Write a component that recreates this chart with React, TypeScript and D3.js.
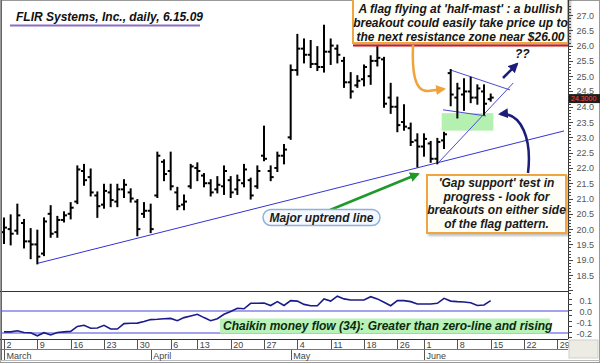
import React from 'react';
import * as d3 from 'd3';

// trading days shown (Mar 2 .. Jun 15, 2009)
const marchDays = [2, 3, 4, 5, 6, 9, 10, 11, 12, 13, 16, 17, 18, 19, 20, 23, 24, 25, 26, 27, 30, 31];
const aprilDays = [1, 2, 3, 6, 7, 8, 9, 13, 14, 15, 16, 17, 20, 21, 22, 23, 24, 27, 28, 29, 30];
const mayDays = [1, 4, 5, 6, 7, 8, 11, 12, 13, 14, 15, 18, 19, 20, 21, 22, 26, 27, 28, 29];
const juneDays = [1, 2, 3, 4, 5, 8, 9, 10, 11, 12, 15];

const high = [20.35, 20.45, 20.8, 20.3, 20.0, 19.95, 20.35, 20.75, 20.4, 20.55, 20.85, 22.05, 22.1, 21.95, 21.2, 21.45, 21.45, 21.45, 21.6, 21.3, 20.95, 20.85, 20.8, 22.5, 22.25, 22.5, 21.35, 21.1, 22.1, 22.15, 21.8, 21.6, 21.7, 22.05, 21.7, 21.75, 22.1, 21.65, 22.05, 23.35, 22.05, 22.5, 22.75, 25.35, 26.35, 26.2, 26.15, 25.95, 26.65, 26.2, 26.0, 25.6, 25.1, 25.0, 25.35, 25.65, 25.95, 25.6, 24.75, 24.3, 24.05, 23.45, 23.1, 23.1, 22.85, 22.95, 23.15, 25.2, 24.75, 24.9, 24.95, 24.7, 24.7, 24.4];
const low = [19.55, 19.5, 19.85, 19.4, 19.05, 18.88, 19.15, 19.75, 19.75, 20.25, 20.35, 20.85, 21.45, 21.1, 20.4, 20.7, 20.75, 20.75, 21.05, 20.9, 19.8, 20.4, 19.9, 21.05, 21.6, 21.3, 20.65, 20.65, 21.35, 21.6, 21.4, 21.1, 21.2, 21.15, 21.05, 21.15, 21.4, 21.0, 21.35, 22.25, 21.6, 21.9, 22.15, 22.95, 25.05, 25.45, 25.3, 25.2, 25.15, 25.4, 25.45, 24.65, 24.3, 24.65, 24.7, 24.75, 25.35, 24.0, 23.8, 23.2, 23.25, 22.75, 22.05, 22.4, 22.2, 22.15, 22.65, 24.05, 23.65, 23.9, 24.15, 24.1, 23.75, 24.2];
const open = [19.9, 20.0, 19.95, 20.2, 19.6, 19.5, 19.2, 20.5, 19.9, 20.3, 20.5, 20.9, 21.9, 21.7, 21.1, 20.8, 21.2, 20.9, 21.3, 21.2, 20.9, 20.5, 20.6, 21.1, 22.2, 21.9, 21.2, 20.8, 21.4, 22.0, 21.75, 21.5, 21.3, 21.4, 21.6, 21.3, 21.5, 21.6, 21.4, 22.4, 21.9, 22.0, 22.4, 23.0, 25.2, 25.9, 25.7, 25.4, 25.3, 25.8, 25.9, 25.5, 24.8, 24.7, 24.9, 25.0, 25.5, 25.55, 24.3, 24.0, 23.5, 23.3, 22.9, 22.7, 22.8, 22.3, 22.9, 25.1, 24.3, 24.4, 24.5, 24.3, 24.5, 24.25];
const close = [20.05, 19.85, 20.45, 19.6, 19.5, 19.1, 20.25, 19.85, 20.3, 20.45, 20.7, 21.95, 21.6, 21.2, 20.75, 21.25, 20.95, 21.3, 21.45, 21.0, 20.0, 20.6, 20.0, 22.4, 21.8, 21.4, 20.75, 20.9, 22.05, 21.9, 21.5, 21.2, 21.45, 21.9, 21.2, 21.6, 21.95, 21.1, 21.9, 22.3, 21.7, 22.4, 22.6, 25.2, 25.9, 25.7, 25.4, 25.3, 25.8, 26.0, 25.7, 24.8, 24.5, 24.85, 25.3, 25.5, 25.6, 24.1, 24.0, 23.4, 23.35, 22.85, 22.7, 22.95, 22.3, 22.85, 23.1, 24.4, 24.6, 24.5, 24.3, 24.6, 24.1, 24.3];
const cmf = [-0.19, -0.19, -0.18, -0.195, -0.197, -0.225, -0.197, -0.218, -0.195, -0.19, -0.185, -0.14, -0.13, -0.157, -0.155, -0.13, -0.164, -0.164, -0.115, -0.112, -0.11, -0.095, -0.078, -0.075, -0.07, -0.067, -0.088, -0.06, -0.045, -0.03, -0.06, -0.088, -0.07, -0.03, -0.005, 0.025, 0.02, 0.07, 0.07, 0.072, 0.05, 0.085, 0.05, 0.094, 0.09, 0.06, 0.048, 0.048, 0.11, 0.09, 0.135, 0.11, 0.1, 0.1, 0.1, 0.13, 0.11, 0.08, 0.048, 0.095, 0.094, 0.085, 0.064, 0.064, 0.064, 0.07, 0.115, 0.09, 0.085, 0.082, 0.075, 0.05, 0.055, 0.094];

const monthNames = ['March', 'April', 'May', 'June'];
const weekLabels = ['2', '9', '16', '23', '30', '6', '13', '20', '27', '4', '11', '18', '26', '1', '8', '15', '22', '29'];
const weekIndex = [0, 5, 10, 15, 20, 25, 29, 34, 39, 44, 49, 54, 59, 63, 68, 73, 78, 83];
const priceTicks = ['18.5', '19.0', '19.5', '20.0', '20.5', '21.0', '21.5', '22.0', '22.5', '23.0', '23.5', '24.0', '24.5', '25.0', '25.5', '26.0', '26.5', '27.0'];
const cmfTicks = ['0.1', '0.0', '-0.1', '-0.2'];
const lastPrice = '24.3000';

// chart annotations in (day index, price)
const uptrend = [[5, 18.88], [84, 23.21]];
const flagTop = [[67, 25.2], [75.9, 24.55]];
const flagBottom = [[65.85, 23.9], [72.3, 23.7]];
const flagRise = [[65.1, 22.16], [76.4, 24.78]];
const gapZone = [65.65, 73.4, 23.22, 23.79];
const resistance = 26.0;

const titleText = 'FLIR Systems, Inc., daily, 6.15.09';
const topNote = ["A flag flying at 'half-mast' : a bullish", 'breakout could easily take price up to', 'the next resistance zone near $26.00'];
const lowNote = ["'Gap support' test in", 'progress - look for', 'breakouts on either side', 'of the flag pattern.'];
const trendNote = 'Major uptrend line';
const cmfNote = 'Chaikin money flow (34): Greater than zero-line and rising';

const W = 600;
const H = 363;
const axisX = 568;
const font = "'Liberation Sans', Arial, sans-serif";

export default function App() {
  const monthStarts = [0, marchDays.length, marchDays.length + aprilDays.length, marchDays.length + aprilDays.length + mayDays.length];
  const n = high.length;

  const x = d3.scaleLinear().domain([0, n - 1]).range([4, 4 + (n - 1) * 6.667]);
  const y = d3.scaleLinear().domain([18.5, 27]).range([275, 15]);
  const yc = d3.scaleLinear().domain([-0.2, 0.1]).range([333, 300]);

  const cmfLine = d3.line<number>().x((_, i) => x(i)).y(d => yc(d)).curve(d3.curveLinear);
  const seg = (p: number[][]) => d3.line<number[]>().x(d => x(d[0])).y(d => y(d[1]))(p) as string;

  const minor = d3.range(179, 274).map(v => v / 10);
  const cmfMinor = d3.range(-24, 15, 5).map(v => v / 100);
  const tagY = y(close[n - 1]);

  return (
    <svg width={W} height={H} style={{ position: 'absolute', left: 0, top: 0, background: '#fff' }} fontFamily={font}>
      <defs>
        <marker id="hGreen" viewBox="0 0 10 10" refX="8" refY="5" markerWidth="4" markerHeight="4" orient="auto">
          <path d="M0,0 L10,5 L0,10 z" fill="#1f9a2a" />
        </marker>
        <marker id="hOrange" viewBox="0 0 10 10" refX="8" refY="5" markerWidth="4" markerHeight="4" orient="auto">
          <path d="M0,0 L10,5 L0,10 z" fill="#f2a23a" />
        </marker>
        <marker id="hNavy" viewBox="0 0 10 10" refX="8" refY="5" markerWidth="4" markerHeight="4" orient="auto">
          <path d="M0,0 L10,5 L0,10 z" fill="#1c1c7a" />
        </marker>
        <filter id="shadow" x="-10%" y="-10%" width="125%" height="130%">
          <feDropShadow dx="2" dy="2" stdDeviation="1.2" floodColor="#000" floodOpacity="0.25" />
        </filter>
      </defs>

      <rect x={0.5} y={0.5} width={W - 1} height={H - 1} fill="#fff" stroke="#9a9a9a" />

      {/* gap zone */}
      <rect x={x(gapZone[0])} y={y(gapZone[3])} width={x(gapZone[1]) - x(gapZone[0])} height={y(gapZone[2]) - y(gapZone[3])} fill="#b4f0b0" />

      {/* trend lines */}
      <path d={seg(uptrend)} stroke="#3434d0" strokeWidth={1} fill="none" />
      <path d={seg(flagTop)} stroke="#4a4ad6" strokeWidth={1} fill="none" />
      <path d={seg(flagBottom)} stroke="#4a4ad6" strokeWidth={1} fill="none" />
      <path d={seg(flagRise)} stroke="#4a4ad6" strokeWidth={1} fill="none" />

      {/* OHLC bars */}
      <g stroke="#000" strokeWidth={2}>
        {high.map((h, i) => (
          <g key={i}>
            <line x1={x(i)} x2={x(i)} y1={y(h) - 1} y2={y(low[i]) + 1} />
            <line x1={x(i) - 3} x2={x(i)} y1={y(open[i])} y2={y(open[i])} />
            <line x1={x(i)} x2={x(i) + 3} y1={y(close[i])} y2={y(close[i])} />
          </g>
        ))}
      </g>

      {/* title */}
      <text x={16} y={21} fontSize={12} fontWeight="bold" fontStyle="italic" fill="#111">{titleText}</text>
      <line x1={10} x2={200} y1={25.5} y2={25.5} stroke="#8c6cc4" strokeWidth={2} />

      {/* top note */}
      <rect x={353} y={-2} width={215} height={45} fill="#fffef6" stroke="#f0a640" strokeWidth={2} filter="url(#shadow)" />
      <line x1={353} x2={axisX} y1={y(resistance)} y2={y(resistance)} stroke="#d81818" strokeWidth={2} />
      {topNote.map((t, i) => (
        <text key={i} x={460.5} y={13 + i * 14.2} textAnchor="middle" fontSize={12} fontWeight="bold" fontStyle="italic" fill="#151515">{t}</text>
      ))}

      {/* orange arrow */}
      <path d="M413,45 C412,70 414,92 428,91 L444,89" stroke="#f2a23a" strokeWidth={2.5} fill="none" markerEnd="url(#hOrange)" />

      {/* breakout arrow */}
      <path d="M503,78 L517,64" stroke="#1c1c7a" strokeWidth={2.5} fill="none" markerEnd="url(#hNavy)" />
      <text x={515} y={58} fontSize={12} fontWeight="bold" fontStyle="italic" fill="#151515">??</text>

      {/* lower note */}
      <rect x={427} y={175} width={139} height={58} fill="#fffef6" stroke="#f0a640" strokeWidth={2} filter="url(#shadow)" />
      {lowNote.map((t, i) => (
        <text key={i} x={496.5} y={187 + i * 13.6} textAnchor="middle" fontSize={12} fontWeight="bold" fontStyle="italic" fill="#1a1a1a">{t}</text>
      ))}
      <path d="M528,173 C532,140 522,112 500,114" stroke="#1c1c7a" strokeWidth={2.5} fill="none" markerEnd="url(#hNavy)" />

      {/* uptrend label */}
      <path d="M330,210 L418,174" stroke="#1f9a2a" strokeWidth={2.5} fill="none" markerEnd="url(#hGreen)" />
      <rect x={263} y={209.5} width={117} height={16} rx={8} fill="#f4f8ff" stroke="#8fb0dc" strokeWidth={1.5} />
      <text x={321.5} y={222} textAnchor="middle" fontSize={12} fontWeight="bold" fontStyle="italic" fill="#1a1a1a">{trendNote}</text>

      {/* price axis */}
      <line x1={axisX + 0.5} x2={axisX + 0.5} y1={0} y2={339} stroke="#333" />
      {minor.map((v, i) => (
        <line key={i} x1={axisX} x2={axisX + (Math.round(v * 10) % 5 === 0 ? 5 : 3)} y1={Math.round(y(v)) + 0.5} y2={Math.round(y(v)) + 0.5} stroke="#444" />
      ))}
      {priceTicks.map(t => (
        <text key={t} x={594} y={y(+t) + (t === '24.5' ? 2.5 : 3.5)} textAnchor="end" fontSize={9} fill="#555">{t}</text>
      ))}
      <rect x={axisX + 1} y={tagY - 3.5} width={31} height={9} fill="#1e1e1e" />
      <text x={axisX + 3} y={tagY + 3.5} fontSize={7} fill="#ff4848">{lastPrice}</text>

      {/* CMF panel */}
      <line x1={0} x2={axisX} y1={291.5} y2={291.5} stroke="#333" />
      <line x1={0} x2={axisX} y1={yc(0)} y2={yc(0)} stroke="#8484e6" strokeWidth={1.5} />
      <line x1={0} x2={axisX} y1={yc(-0.2)} y2={yc(-0.2)} stroke="#8484e6" strokeWidth={1.5} />
      <rect x={220} y={318.5} width={330} height={15} fill="#b8f2b8" />
      <text x={223} y={330} fontSize={12} fontWeight="bold" fontStyle="italic" fill="#0c2a0c">{cmfNote}</text>
      <path d={cmfLine(cmf) as string} stroke="#1a1a8a" strokeWidth={1.6} fill="none" />
      {cmfMinor.map((v, i) => (
        <line key={i} x1={axisX} x2={axisX + 4} y1={Math.round(yc(v)) + 0.5} y2={Math.round(yc(v)) + 0.5} stroke="#444" />
      ))}
      {cmfTicks.map(t => (
        <text key={t} x={592} y={yc(+t) + 3.5} textAnchor="end" fontSize={9} fill="#555">{t}</text>
      ))}

      {/* date axis */}
      <line x1={0} x2={axisX} y1={339.5} y2={339.5} stroke="#333" />
      <line x1={0} x2={axisX} y1={349.5} y2={349.5} stroke="#777" />
      <line x1={0} x2={W} y1={360.5} y2={360.5} stroke="#bbb" />
      {weekIndex.map((wi, i) => (
        <g key={i}>
          <line x1={Math.round(x(wi)) + 0.5} x2={Math.round(x(wi)) + 0.5} y1={340} y2={349} stroke="#555" />
          <text x={x(wi) + 2.5} y={348} fontSize={9} fill="#444">{weekLabels[i]}</text>
        </g>
      ))}
      {monthStarts.map((mi, i) => (
        <g key={i}>
          <line x1={Math.round(x(mi)) + 0.5} x2={Math.round(x(mi)) + 0.5} y1={350} y2={360} stroke="#555" />
          <text x={x(mi) + 2.5} y={358.5} fontSize={9} fill="#444">{monthNames[i]}</text>
        </g>
      ))}
      <rect x={axisX + 1} y={340} width={29} height={18} fill="#ecebe4" stroke="#d0d0c8" />
      <line x1={1.5} x2={1.5} y1={0} y2={360} stroke="#666" />
    </svg>
  );
}
